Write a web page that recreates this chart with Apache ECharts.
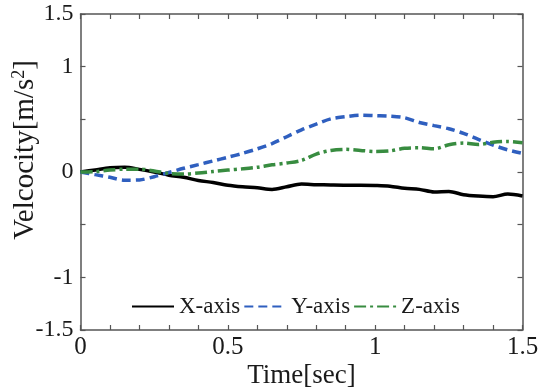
<!DOCTYPE html>
<html>
<head>
<meta charset="utf-8">
<script src="https://cdn.jsdelivr.net/npm/echarts@6/dist/echarts.min.js"></script>
<style>
  html, body { margin: 0; padding: 0; background: #fff; }
  #chart { width: 539px; height: 392px; }
</style>
</head>
<body>
<div id="chart"></div>
<script>
// Sample times [sec]
const time = [0, 0.05, 0.10, 0.15, 0.20, 0.25, 0.30, 0.35, 0.40, 0.45, 0.50,
              0.55, 0.60, 0.65, 0.70, 0.75, 0.80, 0.85, 0.90, 0.95, 1.00,
              1.05, 1.10, 1.15, 1.20, 1.25, 1.30, 1.35, 1.40, 1.45, 1.50];

// Velocity per axis [m/s^2]
const xAxisVel = [0, 0.02, 0.04, 0.045, 0.025, 0.0, -0.03, -0.05, -0.08, -0.10, -0.125,
                  -0.14, -0.15, -0.165, -0.14, -0.115, -0.12, -0.123, -0.125, -0.125, -0.128,
                  -0.135, -0.155, -0.165, -0.19, -0.185, -0.215, -0.228, -0.234, -0.21, -0.228];
const yAxisVel = [0, -0.025, -0.05, -0.078, -0.075, -0.045, -0.005, 0.035, 0.07, 0.105, 0.14,
                  0.177, 0.22, 0.27, 0.335, 0.40, 0.455, 0.505, 0.525, 0.54, 0.535,
                  0.53, 0.515, 0.47, 0.44, 0.41, 0.367, 0.31, 0.255, 0.21, 0.177];
const zAxisVel = [0, 0.003, 0.018, 0.027, 0.027, 0.01, -0.013, -0.02, -0.01, 0.005, 0.018,
                  0.03, 0.045, 0.068, 0.085, 0.11, 0.17, 0.205, 0.215, 0.205, 0.195,
                  0.2, 0.225, 0.23, 0.22, 0.258, 0.275, 0.26, 0.282, 0.29, 0.278];

const seriesNames = ['X-axis', 'Y-axis', 'Z-axis'];
const xTickLabels = ['0', '0.5', '1', '1.5'];
const yTickLabels = ['-1.5', '-1', '0', '1', '1.5'];

const FONT = 'Liberation Serif';
const AXIS_COLOR = '#555';
const TEXT_COLOR = '#1a1a1a';

const pair = arr => time.map((t, i) => [t, arr[i]]);
const fmt = v => String(Math.round(v * 10) / 10);

const chart = echarts.init(document.getElementById('chart'), null, { renderer: 'canvas' });

const axisCommon = {
  nameMoveOverlap: false,
  axisLine: { show: true, onZero: false, lineStyle: { color: AXIS_COLOR, width: 1.5 } },
  axisTick: { show: true, inside: true, length: 5, lineStyle: { color: AXIS_COLOR, width: 1.2 } },
  splitLine: { show: false }
};

chart.setOption({
  animation: false,
  backgroundColor: '#fff',
  grid: { left: 80.5, right: 16.5, top: 14, bottom: 62, containLabel: false, outerBoundsMode: 'none' },
  legend: {
    left: 126,
    top: 290,
    itemWidth: 42,
    itemHeight: 14,
    itemGap: 3,
    data: seriesNames,
    itemStyle: { opacity: 0 },
    textStyle: { fontFamily: FONT, fontSize: 23, color: TEXT_COLOR }
  },
  xAxis: [
    Object.assign({}, axisCommon, {
      type: 'value', min: 0, max: 1.5, interval: 0.1, position: 'bottom',
      name: 'Time[sec]', nameLocation: 'middle', nameGap: 32,
      nameTextStyle: { fontFamily: FONT, fontSize: 27, color: TEXT_COLOR },
      axisLabel: {
        margin: 5, fontFamily: FONT, fontSize: 25, color: TEXT_COLOR,
        formatter: v => { const s = fmt(v); return xTickLabels.includes(s) ? s : ''; }
      }
    }),
    Object.assign({}, axisCommon, {
      type: 'value', min: 0, max: 1.5, interval: 0.1, position: 'top',
      axisLabel: { show: false }
    })
  ],
  yAxis: [
    Object.assign({}, axisCommon, {
      type: 'value', min: -1.5, max: 1.5, interval: 0.5, position: 'left',
      name: 'Velcocity[m/s{sup|2}]', nameLocation: 'middle', nameGap: 40,
      nameTextStyle: {
        fontFamily: FONT, fontSize: 29, color: TEXT_COLOR, padding: [0, 0, 0, 44],
        rich: { sup: { fontFamily: FONT, fontSize: 18, color: TEXT_COLOR, verticalAlign: 'top', padding: [0, 0, 12, 0] } }
      },
      axisLabel: {
        margin: 7, fontFamily: FONT, fontSize: 24, color: TEXT_COLOR,
        formatter: v => { const s = fmt(v); return yTickLabels.includes(s) ? s : ''; }
      }
    }),
    Object.assign({}, axisCommon, {
      type: 'value', min: -1.5, max: 1.5, interval: 0.5, position: 'right',
      axisLabel: { show: false }
    })
  ],
  series: [
    {
      name: seriesNames[0], type: 'line', data: pair(xAxisVel),
      symbol: 'none', smooth: 0.3,
      lineStyle: { color: '#000000', width: 3.5, type: 'solid' },
      itemStyle: { color: '#000000' }
    },
    {
      name: seriesNames[1], type: 'line', data: pair(yAxisVel),
      symbol: 'none', smooth: 0.3,
      lineStyle: { color: '#2f5fbf', width: 3.5, type: [9, 5] },
      itemStyle: { color: '#2f5fbf' }
    },
    {
      name: seriesNames[2], type: 'line', data: pair(zAxisVel),
      symbol: 'none', smooth: 0.3,
      lineStyle: { color: '#388c40', width: 3.5, type: [12, 4, 3, 4] },
      itemStyle: { color: '#388c40' }
    }
  ]
});
</script>
</body>
</html>
